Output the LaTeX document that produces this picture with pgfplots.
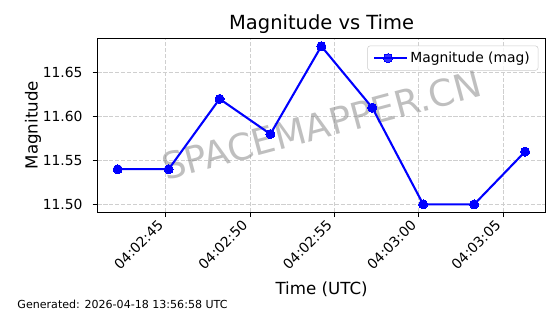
\documentclass[border=0pt]{standalone}
\usepackage{fontspec}
\setmainfont{DejaVu Sans}
\usepackage{pgfplots}
\pgfplotsset{compat=1.18}
\begin{document}
\begin{tikzpicture}
\begin{axis}[
  at={(0,0)}, anchor=south west,
  scale only axis,
  width=336.15pt, height=130.5pt,
  xmin=40.95, xmax=67.52,
  ymin=11.491, ymax=11.689,
  xtick={45,50,55,60,65},
  xticklabels={04:02:45,04:02:50,04:02:55,04:03:00,04:03:05},
  ytick={11.5,11.55,11.6,11.65},
  y tick label style={/pgf/number format/fixed, /pgf/number format/fixed zerofill, /pgf/number format/precision=2},
  /pgf/number format/assume math mode=true,
  tick align=outside,
  major tick length=3.65pt,
  tick style={line width=0.83pt, black},
  axis line style={line width=0.83pt},
  xtick pos=bottom, ytick pos=left,
  ticklabel style={font=\fontsize{10.4}{12}\selectfont},
  xticklabel style={xshift=-6.7pt, yshift=-1.2pt, rotate=45, anchor=north east, inner sep=0pt},
  yticklabel style={anchor=east, inner sep=0pt, xshift=-7.35pt},
  grid=major,
  major grid style={dash pattern=on 3.1pt off 1.35pt, color=black!19, line width=0.8pt},
  legend style={at={(1,1)}, anchor=north east, xshift=-5.5pt, yshift=-5.5pt,
    draw=black!20, rounded corners=2pt, font=\fontsize{10.4}{12}\selectfont,
    inner xsep=4.2pt, inner ysep=2.5pt, fill=white, fill opacity=0.8, text opacity=1},
  legend cell align=left,
  legend image code/.code={\draw[mark repeat=2,mark phase=2,#1] plot coordinates {(0pt,0pt) (10.4pt,0pt) (20.8pt,0pt)}; \path (0pt,0pt) -- (24.3pt,0pt);},
]
\node[font=\fontsize{27.5}{32}\selectfont, text=gray, text opacity=0.5, rotate=15] at (rel axis cs:0.5,0.5) {SPACEMAPPER.CN};
\addplot[color=blue, line width=1.56pt, mark=*, mark size=3.4pt, mark options={solid, fill=blue, draw=blue, line width=0pt}]
coordinates {
(42.15,11.54) (45.17,11.54) (48.19,11.62) (51.20,11.58) (54.22,11.68)
(57.24,11.61) (60.26,11.50) (63.28,11.50) (66.30,11.56)
};
\addlegendentry{Magnitude (mag)}
\end{axis}
\useasboundingbox (-73.1pt,-76.3pt) rectangle (346.9pt,159.2pt);
\node[anchor=base, font=\fontsize{14.6}{17}\selectfont] at (168.1pt,136.7pt) {Magnitude vs Time};
\node[anchor=base, font=\fontsize{12.5}{15}\selectfont] at (168.1pt,-61.3pt) {Time (UTC)};
\node[anchor=base, rotate=90, font=\fontsize{12.5}{15}\selectfont] at (-44.8pt,65.3pt) {Magnitude};
\node[anchor=base west, inner sep=0pt, font=\fontsize{8.3}{10}\selectfont] at (-60.2pt,-72.4pt) {Generated: 2026-04-18 13:56:58 UTC};
\end{tikzpicture}
\end{document}
